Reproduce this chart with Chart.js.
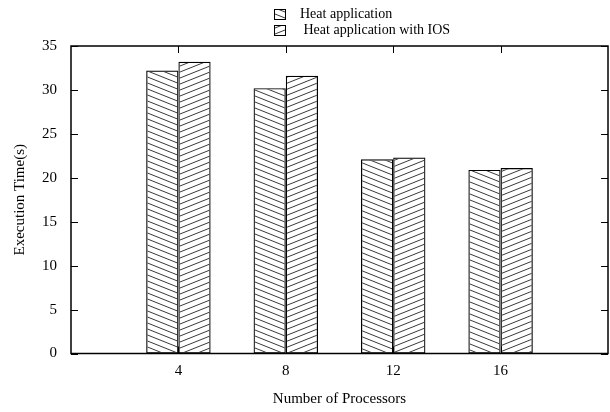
<!DOCTYPE html>
<html>
<head>
<meta charset="utf-8">
<title>Execution time</title>
<script src="https://cdn.jsdelivr.net/npm/chart.js@4.4.0/dist/chart.umd.min.js"></script>
<style>
    html, body { margin: 0; padding: 0; background: #fff; }
    #wrap { width: 610px; height: 412px; }
</style>
</head>
<body>
<div id="wrap"><canvas id="exec-time" width="610" height="412"></canvas></div>
<script>
    "use strict";

    // Data
    var processors = [4, 8, 12, 16];
    var heatApp = [32.2, 30.2, 22.1, 20.9];
    var heatAppIOS = [33.2, 31.6, 22.3, 21.1];
    var seriesLabels = ["Heat application", " Heat application with IOS"];

    var serif = "'Liberation Serif', 'DejaVu Serif', serif";

    // Hatch fill, dir 1 = "\\", dir -1 = "/"
    function hatch(dir) {
        var w = 15, h = 6;
        var c = document.createElement("canvas");
        c.width = w;
        c.height = h;
        var g = c.getContext("2d");
        g.strokeStyle = "#3a3a3a";
        g.lineWidth = 1;
        for (var k = -1; k <= 1; k++) {
            g.beginPath();
            if (dir > 0) {
                g.moveTo(0, k * h);
                g.lineTo(w, (k + 1) * h);
            } else {
                g.moveTo(0, (k + 1) * h);
                g.lineTo(w, k * h);
            }
            g.stroke();
        }
        return g.createPattern(c, "repeat");
    }

    function points(vals) {
        return processors.map(function (p, i) { return {x: p, y: vals[i]}; });
    }

    // Box around the plot with inward ticks on all four sides
    var framePlugin = {
        id: "frame",
        afterDatasetsDraw: function (chart) {
            var ctx = chart.ctx, a = chart.chartArea;
            var xs = chart.scales.x, ys = chart.scales.y;
            ctx.save();
            ctx.strokeStyle = "#000";
            ctx.lineWidth = 1;
            ctx.beginPath();
            ys.ticks.forEach(function (t) {
                var y = Math.round(ys.getPixelForValue(t.value)) + 0.5;
                ctx.moveTo(a.left, y); ctx.lineTo(a.left + 7, y);
                ctx.moveTo(a.right, y); ctx.lineTo(a.right - 7, y);
            });
            xs.ticks.forEach(function (t) {
                var x = Math.round(xs.getPixelForValue(t.value)) + 0.5;
                ctx.moveTo(x, a.top); ctx.lineTo(x, a.top + 7);
                ctx.moveTo(x, a.bottom); ctx.lineTo(x, a.bottom - 7);
            });
            ctx.stroke();
            ctx.lineWidth = 1.5;
            ctx.strokeRect(a.left, a.top, a.right - a.left, a.bottom - a.top);
            ctx.restore();
        }
    };

    // Key in the top margin, one entry per line
    var keyPlugin = {
        id: "key",
        afterDraw: function (chart) {
            var ctx = chart.ctx;
            ctx.save();
            ctx.font = "14px " + serif;
            ctx.textBaseline = "alphabetic";
            ctx.textAlign = "left";
            chart.data.datasets.forEach(function (ds, i) {
                var y = 9 + i * 16;
                ctx.fillStyle = ds.backgroundColor;
                ctx.fillRect(274, y, 11, 10);
                ctx.strokeStyle = "#000";
                ctx.lineWidth = 1;
                ctx.strokeRect(274.5, y + 0.5, 11, 10);
                ctx.fillStyle = "#000";
                ctx.fillText(ds.label, 300, y + 9);
            });
            ctx.restore();
        }
    };

    var ctx = document.getElementById("exec-time").getContext("2d");
    var execChart = new Chart(ctx, {
        type: "bar",
        data: {
            datasets: [{
                    label: seriesLabels[0],
                    data: points(heatApp),
                    backgroundColor: hatch(1),
                    borderColor: "#000",
                    borderWidth: 1.2,
                    borderSkipped: false
                },
                {
                    label: seriesLabels[1],
                    data: points(heatAppIOS),
                    backgroundColor: hatch(-1),
                    borderColor: "#000",
                    borderWidth: 1.2,
                    borderSkipped: false
                }
            ]
        },
        options: {
            responsive: false,
            animation: false,
            devicePixelRatio: 1,
            categoryPercentage: 0.6,
            barPercentage: 1,
            layout: {
                padding: {top: 46, right: 2, left: 0, bottom: 0}
            },
            plugins: {
                legend: {display: false},
                tooltip: {enabled: false}
            },
            scales: {
                x: {
                    type: "linear",
                    min: 0,
                    max: 20,
                    offset: false,
                    grid: {display: false, drawTicks: false},
                    border: {display: false},
                    afterBuildTicks: function (scale) {
                        scale.ticks = processors.map(function (p) { return {value: p}; });
                    },
                    afterFit: function (scale) {
                        scale.height = 58.5;
                    },
                    ticks: {
                        color: "#000",
                        padding: 9,
                        font: {family: serif, size: 15}
                    },
                    title: {
                        display: true,
                        text: "Number of Processors",
                        color: "#000",
                        padding: {top: 0, bottom: 4},
                        font: {family: serif, size: 15}
                    }
                },
                y: {
                    min: 0,
                    max: 35,
                    grid: {display: false, drawTicks: false},
                    border: {display: false},
                    ticks: {
                        stepSize: 5,
                        color: "#000",
                        padding: 14,
                        font: {family: serif, size: 15}
                    },
                    afterFit: function (scale) {
                        scale.width = 71;
                    },
                    title: {
                        display: true,
                        text: "Execution Time(s)",
                        color: "#000",
                        padding: {top: 11, bottom: 0},
                        font: {family: serif, size: 15}
                    }
                }
            }
        },
        plugins: [framePlugin, keyPlugin]
    });
</script>
</body>
</html>
